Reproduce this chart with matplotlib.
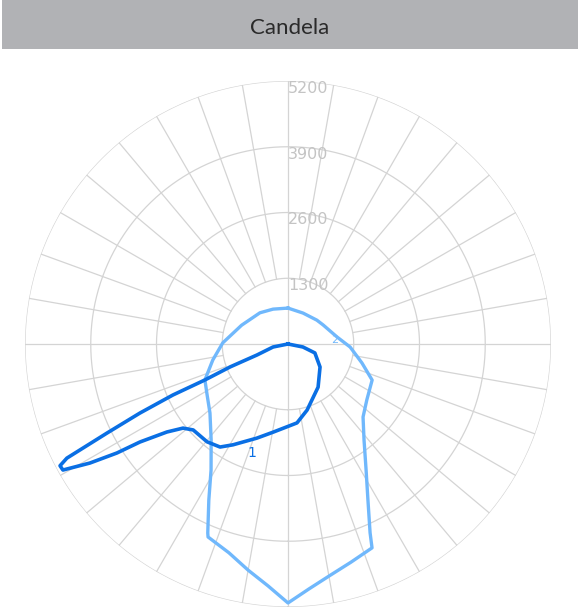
import matplotlib
matplotlib.use("Agg")
import matplotlib.pyplot as plt
import numpy as np
from matplotlib.patches import Rectangle

# photometric curves: angle from nadir (deg, + to the right) and candela
C1_ANGLES = [-90, -78.7, -70.5, -68.4, -66.6, -66.1, -65, -63.8, -62.7, -61.9,
             -60.75, -59, -57.5, -56.5, -54, -51.3, -47.8, -39.6, -33.4, -28.6,
             -18.3, -9.7, 6.5, 16.1, 34.9, 54.3, 71.6, 78.7, 90]
C1_CD = [0, 300, 650, 1230, 1790, 2490, 3230, 3990, 4920, 5110,
         5100, 4570, 4010, 3510, 2960, 2660, 2530, 2510, 2440, 2270,
         1960, 1770, 1570, 1360, 1040, 780, 560, 300, 0]

C2_ANGLES = [-180, -156.8, -138, -112, -91, -78, -66.6, -57.8, -48.5, -38.7,
             -31.4, -26.9, -23, -22.5, -15.8, -10, -4.7, 0, 4.9, 10.3, 16.1,
             22.4, 23.5, 27.1, 31.8, 38.4, 45.8, 54.7, 66.8, 75.6, 87.2, 98.1,
             118.5, 129.6, 154, 180]
C2_CD = [710, 750, 830, 990, 1290, 1520, 1790, 1890, 2060, 2430,
         2920, 3460, 4060, 4130, 4290, 4540, 4800, 5120, 4860, 4650, 4490,
         4360, 4070, 3470, 2930, 2420, 2070, 1910, 1810, 1510, 1230, 980,
         790, 740, 680, 710]

RINGS = [1300, 2600, 3900, 5200]
R_MAX = 5200
SPOKE_STEP = 10

DARK = "#0a6fe4"
LIGHT = "#70b8fc"
GRID = "#d4d4d4"

W, H = 578, 612
fig = plt.figure(figsize=(W / 100, H / 100), dpi=100)

# header bar
fig.patches.append(Rectangle((2 / W, 1 - 49 / H), 1, 49 / H, transform=fig.transFigure,
                             facecolor="#b1b2b5", edgecolor="none", zorder=0))
fig.text(289.5 / W, 1 - 28 / H, "Candela", ha="center", va="center",
         fontsize=16, family=["Lato", "DejaVu Sans"], color="#2a2a2a")

cx, cy, rad = 288, 344, 263
ax = fig.add_axes([(cx - rad) / W, 1 - (cy + rad) / H, 2 * rad / W, 2 * rad / H],
                  projection="polar")
ax.set_theta_zero_location("S")
ax.set_theta_direction(1)
ax.set_ylim(0, R_MAX)
ax.grid(False)
ax.set_xticks([])
ax.set_yticks([])
ax.spines["polar"].set_visible(False)

# grid rings and spokes
t = np.linspace(0, 2 * np.pi, 721)
for r in RINGS:
    ax.plot(t, np.full_like(t, r), color=GRID, lw=0.9, zorder=1)
for a in range(0, 360, SPOKE_STEP):
    th = np.deg2rad(a)
    r0 = 0 if a % 90 == 0 else RINGS[0]
    ax.plot([th, th], [r0, R_MAX], color=GRID, lw=0.9, zorder=1)
for r in RINGS:
    ax.text(np.pi, r, str(r), ha="left", va="top", fontsize=11.5, color="#c4c4c4",
            family=["Liberation Sans Narrow", "DejaVu Sans"], zorder=2)

ax.plot(np.deg2rad(C2_ANGLES), C2_CD, color=LIGHT, lw=2.4, zorder=3,
        solid_joinstyle="round")
ax.plot(np.deg2rad(C1_ANGLES), C1_CD, color=DARK, lw=2.6, zorder=4,
        solid_joinstyle="round")
ax.text(np.deg2rad(-18.3), 2270, "1", color=DARK, fontsize=10, ha="center", va="center")
ax.text(np.deg2rad(94.9), 930, "2", color=LIGHT, fontsize=8, ha="center", va="center")

fig.savefig("out.png", dpi=100)
